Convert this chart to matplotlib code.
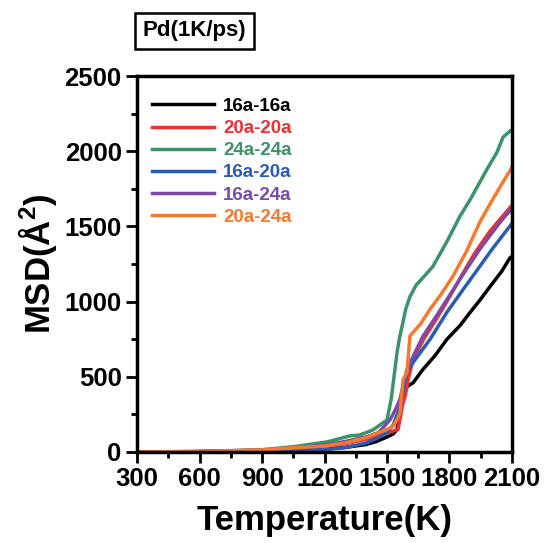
import matplotlib
matplotlib.use('Agg')
import matplotlib.pyplot as plt
from matplotlib.ticker import MultipleLocator

plt.rcParams['font.family'] = ['Liberation Sans', 'DejaVu Sans']
plt.rcParams['font.weight'] = 'bold'
plt.rcParams['mathtext.fontset'] = 'custom'
plt.rcParams['mathtext.rm'] = 'Liberation Sans:bold'
plt.rcParams['mathtext.bf'] = 'Liberation Sans:bold'

# values (temperature K, MSD A^2)
t_1616 = [300, 600, 900, 1050, 1200, 1300, 1400, 1450, 1500, 1530, 1548, 1565, 1577, 1596, 1625, 1673, 1730, 1788, 1850, 1900, 1946, 2000, 2050, 2090, 2100]
m_1616 = [0, 2, 8, 15, 20, 30, 50, 70, 100, 120, 150, 260, 350, 435, 460, 550, 640, 750, 840, 930, 1010, 1110, 1200, 1290, 1300]

t_2020 = [300, 600, 900, 1050, 1200, 1300, 1400, 1450, 1500, 1530, 1553, 1565, 1572, 1587, 1601, 1625, 1680, 1740, 1800, 1865, 1920, 1995, 2050, 2100]
m_2020 = [0, 3, 12, 22, 35, 55, 85, 105, 127, 140, 150, 240, 300, 370, 480, 615, 760, 890, 1030, 1190, 1320, 1470, 1560, 1640]

t_2424 = [300, 600, 900, 1050, 1212, 1322, 1370, 1433, 1466, 1500, 1520, 1548, 1560, 1572, 1590, 1610, 1640, 1673, 1720, 1788, 1850, 1900, 1932, 1980, 2028, 2057, 2090, 2100]
m_2424 = [0, 3, 15, 35, 67, 107, 113, 147, 180, 213, 350, 660, 760, 833, 950, 1033, 1110, 1160, 1233, 1400, 1567, 1680, 1760, 1880, 1993, 2093, 2133, 2140]

t_1620 = [300, 600, 900, 1050, 1200, 1300, 1400, 1466, 1500, 1530, 1562, 1596, 1625, 1707, 1788, 1860, 1946, 2000, 2050, 2100]
m_1620 = [0, 2, 8, 12, 15, 30, 60, 100, 130, 180, 300, 530, 595, 750, 930, 1070, 1235, 1340, 1430, 1520]

t_1624 = [300, 600, 900, 1050, 1200, 1300, 1400, 1460, 1514, 1540, 1562, 1596, 1625, 1673, 1740, 1788, 1860, 1946, 2000, 2050, 2100]
m_1624 = [0, 3, 12, 25, 47, 70, 100, 130, 213, 280, 350, 550, 635, 770, 910, 1015, 1170, 1350, 1450, 1540, 1620]

t_2024 = [300, 600, 900, 1050, 1200, 1300, 1400, 1460, 1500, 1529, 1550, 1562, 1577, 1596, 1610, 1625, 1660, 1707, 1760, 1817, 1880, 1946, 1999, 2050, 2100]
m_2024 = [0, 3, 14, 28, 40, 60, 95, 130, 150, 170, 220, 260, 480, 530, 770, 795, 850, 950, 1050, 1170, 1330, 1530, 1660, 1780, 1893]

series = [
    ('16a-16a', t_1616, m_1616, '#000000'),
    ('20a-20a', t_2020, m_2020, '#f03030'),
    ('24a-24a', t_2424, m_2424, '#3a9468'),
    ('16a-20a', t_1620, m_1620, '#2b5cb5'),
    ('16a-24a', t_1624, m_1624, '#7b49a8'),
    ('20a-24a', t_2024, m_2024, '#f5792f'),
]

fig = plt.figure(figsize=(5.47, 5.43), dpi=100)
ax = fig.add_axes([0.2505, 0.1676, 0.6855, 0.6924])

for name, t, m, c in series:
    ax.plot(t, m, color=c, lw=2.5, label=name)

ax.set_xlim(300, 2100)
ax.set_ylim(0, 2500)
ax.set_xticks(range(300, 2101, 300))
ax.set_yticks(range(0, 2501, 500))
ax.xaxis.set_minor_locator(MultipleLocator(150))
ax.yaxis.set_minor_locator(MultipleLocator(250))
ax.tick_params(which='major', direction='out', length=8, width=2, labelsize=18.5, pad=3)
ax.tick_params(which='minor', direction='out', length=4, width=2)
for s in ax.spines.values():
    s.set_linewidth(2.5)

ax.set_xlabel('Temperature(K)', fontsize=25, fontweight='bold', labelpad=9)
ax.set_ylabel('MSD(Å$^{2}$)', fontsize=25, fontweight='bold', labelpad=4)

leg = ax.legend(loc='upper left', frameon=False, labelcolor='linecolor',
                prop={'weight': 'bold', 'size': 13.5}, handlelength=3.3,
                handletextpad=0.5, borderaxespad=0.0, labelspacing=0.27,
                bbox_to_anchor=(0.02, 0.962))

fig.text(0.355, 0.943, 'Pd(1K/ps)', fontsize=16, fontweight='bold', ha='center', va='center',
         bbox=dict(boxstyle='square,pad=0.35', fc='white', ec='black', lw=1.8))

fig.savefig('out.png', dpi=100)
